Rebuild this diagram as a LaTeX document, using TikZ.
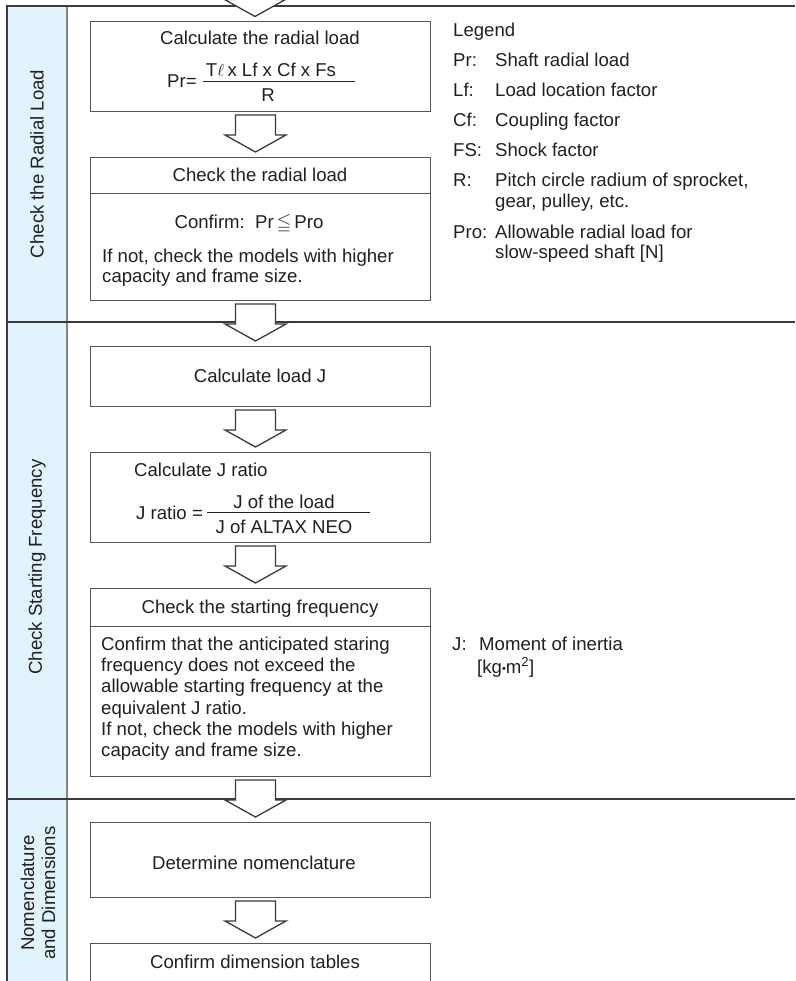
\documentclass[tikz,border=0pt]{standalone}
\usepackage{fontspec}
\usepackage{amssymb}
\setmainfont{Liberation Sans}
\usetikzlibrary{calc}
\definecolor{side}{HTML}{E1F3FD}
\definecolor{ink}{HTML}{231F20}
\definecolor{framec}{HTML}{3A3A3A}
\definecolor{boxc}{HTML}{555555}
\definecolor{sidel}{HTML}{858585}
\newcommand\blockarr[2]{%
  \path[arrstyle] let \p1=($(#1.south)+(-5,3)$), \p2=($(#2.north)+(-5,-5)$) in
    (\x1-20pt,\y1) -- (\x1+20pt,\y1) -- (\x1+20pt,\y2+17pt) -- (\x1+30.5pt,\y2+17pt)
    -- (\x1,\y2) -- (\x1-30.5pt,\y2+17pt) -- (\x1-20pt,\y2+17pt) -- cycle;}
\begin{document}
\begin{tikzpicture}[x=1pt,y=-1pt,
  txt/.style={inner sep=0pt, text=ink, font=\fontsize{18.6}{22}\selectfont},
  boxn/.style={draw=boxc, line width=1pt, fill=white, minimum width=340pt, anchor=north west, inner sep=0pt},
  arrstyle/.style={draw=framec, fill=white, line width=1.3pt, line join=miter},
  sepline/.style={draw=framec, line width=1.4pt},
  divline/.style={draw=boxc, line width=1pt}]
\useasboundingbox (0,0) rectangle (795,981);
\clip (0,0) rectangle (795,981);
% sidebar
\fill[side] (8,6) rectangle (67,981);
\draw[sidel, line width=1.8pt] (67,6) -- (67,981);
\draw[sepline] (6,6) -- (795,6);
\draw[sepline] (7,322) -- (795,322);
\draw[sepline] (7,799) -- (795,799);
\draw[framec, line width=2.2pt] (7,5) -- (7,981);
% boxes
\node[boxn, minimum height=89.5pt] (b1) at (90,21.5) {};
\node[boxn, minimum height=143pt] (b2) at (90,157) {};
\node[boxn, minimum height=60pt] (b3) at (90,346) {};
\node[boxn, minimum height=90pt] (b4) at (90,452) {};
\node[boxn, minimum height=188pt] (b5) at (90,588) {};
\node[boxn, minimum height=75pt] (b6) at (90,822) {};
\node[boxn, minimum height=60pt] (b7) at (90,943) {};
\draw[divline] (b2.west |- 0,194) -- (b2.east |- 0,194);
\draw[divline] (b5.west |- 0,626) -- (b5.east |- 0,626);
% block arrows
\node[inner sep=0pt, minimum size=0pt] (top) at (260,-25) {};
\blockarr{top}{b1}
\blockarr{b1}{b2}
\blockarr{b2}{b3}
\blockarr{b3}{b4}
\blockarr{b4}{b5}
\blockarr{b5}{b6}
\blockarr{b6}{b7}
% sidebar labels
\node[txt, rotate=90] (s1) at (37,164) {Check the Radial Load};
\node[txt, rotate=90] (s2) at (37,567) {Check Starting Frequency};
\node[txt, rotate=90, align=center, font=\fontsize{18.6}{21}\selectfont] (s3) at (38,893) {Nomenclature\\and Dimensions};
% box 1
\node[txt, anchor=base] (t1) at (260,45) {Calculate the radial load};
\node[txt, anchor=base west] (pr) at (167,88) {Pr=};
\node[txt, anchor=base] (num1) at (271,77) {T{$\ell$}\,x Lf x Cf x Fs};
\draw[ink, line width=0.9pt] (203,81) -- (355,81);
\node[txt, anchor=base] (den1) at (268,102) {R};
% box 2
\node[txt, anchor=base] (t2) at (260,182) {Check the radial load};
\node[txt, anchor=base] (cf) at (249,229) {Confirm:\ \ Pr\,{$\leqq$}\,Pro};
\node[txt, anchor=base west] (n2a) at (102,262) {If not, check the models with higher};
\node[txt, anchor=base west] (n2b) at (102,283) {capacity and frame size.};
% box 3
\node[txt, anchor=base] (t3) at (260,382) {Calculate load J};
% box 4
\node[txt, anchor=base west] (t4) at (134,476) {Calculate J ratio};
\node[txt, anchor=base west] (jr) at (136,519) {J ratio =};
\node[txt, anchor=base] (num4) at (284,508) {J of the load};
\draw[ink, line width=0.9pt] (207,512) -- (370,512);
\node[txt, anchor=base] (den4) at (284,533) {J of ALTAX NEO};
% box 5
\node[txt, anchor=base] (t5) at (260,613) {Check the starting frequency};
\node[txt, anchor=base west] (l1) at (101,650) {Confirm that the anticipated staring};
\node[txt, anchor=base west] (l2) at (101,671) {frequency does not exceed the};
\node[txt, anchor=base west] (l3) at (101,692) {allowable starting frequency at the};
\node[txt, anchor=base west] (l4) at (101,714) {equivalent J ratio.};
\node[txt, anchor=base west] (l5) at (101,735) {If not, check the models with higher};
\node[txt, anchor=base west] (l6) at (101,756) {capacity and frame size.};
% box 6, 7
\node[txt, anchor=base] (t6) at (254,869) {Determine nomenclature};
\node[txt, anchor=base] (t7) at (255,968) {Confirm dimension tables};
% legend
\node[txt, anchor=base west] (lg) at (453,37) {Legend};
\node[txt, anchor=base west] (k1) at (453,67) {Pr:};
\node[txt, anchor=base west] (v1) at (495,67) {Shaft radial load};
\node[txt, anchor=base west] (k2) at (453,97) {Lf:};
\node[txt, anchor=base west] (v2) at (495,97) {Load location factor};
\node[txt, anchor=base west] (k3) at (453,127) {Cf:};
\node[txt, anchor=base west] (v3) at (495,127) {Coupling factor};
\node[txt, anchor=base west] (k4) at (453,157) {FS:};
\node[txt, anchor=base west] (v4) at (495,157) {Shock factor};
\node[txt, anchor=base west] (k5) at (453,187) {R:};
\node[txt, anchor=base west] (v5) at (495,187) {Pitch circle radium of sprocket,};
\node[txt, anchor=base west] (v5b) at (495,208) {gear, pulley, etc.};
\node[txt, anchor=base west] (k6) at (453,239) {Pro:};
\node[txt, anchor=base west] (v6) at (495,239) {Allowable radial load for};
\node[txt, anchor=base west] (v6b) at (495,259) {slow-speed shaft [N]};
\node[txt, anchor=base west] (kj) at (452,650) {J:};
\node[txt, anchor=base west] (vj) at (479,650) {Moment of inertia};
\node[txt, anchor=base west] (vj2) at (477,673) {[kg{\raisebox{1pt}{\fontsize{11}{11}\selectfont •}}m\textsuperscript{2}]};
\end{tikzpicture}
\end{document}
